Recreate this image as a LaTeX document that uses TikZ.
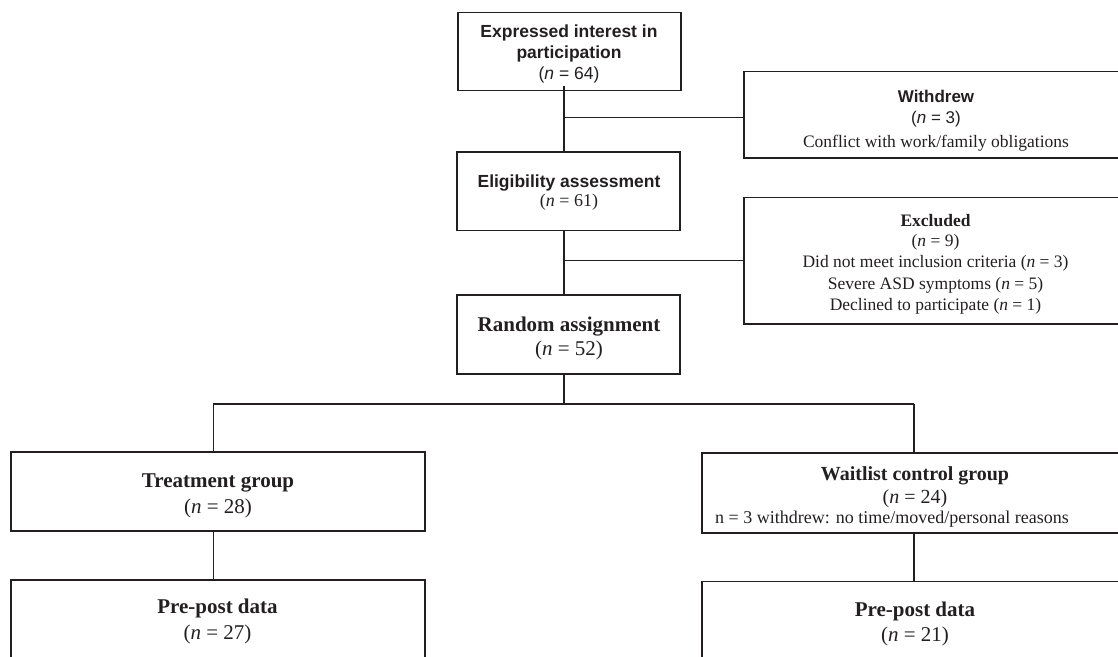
\documentclass[tikz,border=0pt]{standalone}
\usepackage{fontspec}
\setmainfont{Liberation Serif}
\newfontfamily\arialf{Liberation Sans}
\newcommand{\ml}[1]{\begin{tabular}[t]{@{}c@{}}#1\end{tabular}}
\newcommand{\fs}[2]{\fontsize{#1}{#2}\selectfont}
\definecolor{ink}{HTML}{231F20}
\begin{document}
\begin{tikzpicture}[x=1pt,y=-1pt,
  box/.style 2 args={draw=ink, line width=1.2pt, minimum width=#1pt, minimum height=#2pt, inner sep=0pt},
  txt/.style={anchor=base, inner sep=0pt, text=ink},
  conn/.style={draw=ink, line width=1.2pt},
  thick conn/.style={draw=ink, line width=1.6pt}]
\useasboundingbox (0,0) rectangle (1118,656);
% boxes
\node[box={223}{78}] (top) at (569.5,51.7) {};
\node[box={384}{86.3}] (wd) at (936,114.85) {};
\node[box={223}{78.5}] (elig) at (568.5,191.25) {};
\node[box={384}{126.5}] (exc) at (936,260.75) {};
\node[box={223}{79}] (rand) at (568.5,334.5) {};
\node[box={414}{79}] (treat) at (218,491.5) {};
\node[box={426}{80}] (wait) at (915,493) {};
\node[box={414}{79}] (pre1) at (218,619.5) {};
\node[box={426}{79}] (pre2) at (915,620.75) {};
% texts
\node[txt, font=\arialf\bfseries\fs{17.5}{21}] at (569,37)
  {\ml{Expressed interest in\\participation\\\mdseries(\textit{n} = 64)}};
\node[txt, font=\arialf\fs{17}{21}] at (936,102.3)
  {\ml{\bfseries Withdrew\\(\textit{n} = 3)\\[3pt]\rmfamily\fs{17.5}{21}Conflict with work/family obligations}};
\node[txt, font=\arialf\bfseries\fs{17.5}{19}] at (569,187)
  {\ml{Eligibility assessment\\\rmfamily\mdseries\fs{18}{19}(\textit{n} = 61)}};
\node[txt, font=\fs{17.5}{21.5}] at (935.5,226)
  {\ml{\bfseries Excluded\\[-1.5pt](\textit{n} = 9)\\Did not meet inclusion criteria (\textit{n} = 3)\\Severe ASD symptoms (\textit{n} = 5)\\Declined to participate (\textit{n} = 1)}};
\node[txt, font=\fs{21}{23.5}] at (569,331.7)
  {\ml{\bfseries Random assignment\\(\textit{n} = 52)}};
\node[txt, font=\fs{21}{26}] at (218,487.7)
  {\ml{\bfseries Treatment group\\(\textit{n} = 28)}};
\node[txt, font=\fs{20}{23.3}] at (915,480)
  {\ml{\bfseries Waitlist control group\\(\textit{n} = 24)}};
\node[txt, anchor=base west, font=\fs{18}{20}] at (715,523.3)
  {n = 3 withdrew: no time/moved/personal reasons};
\node[txt, font=\fs{21}{25.7}] at (217.5,613.3)
  {\ml{\bfseries Pre-post data\\(\textit{n} = 27)}};
\node[txt, font=\fs{21}{25.7}] at (915,616)
  {\ml{\bfseries Pre-post data\\(\textit{n} = 21)}};
% connector guide coordinates
\coordinate (xs) at (564,0);
\coordinate (xl) at (213.3,0);
\coordinate (xr) at (914,0);
\coordinate (t0) at (564,86);
\coordinate (j1) at (564,117.7);
\coordinate (j2) at (564,260.7);
\coordinate (h) at (564,404);
% connectors
\path[conn] (t0) -- (xs |- elig.north);
\path[conn] (j1) -- (j1 -| wd.west);
\path[conn] (xs |- elig.south) -- (xs |- rand.north);
\path[conn] (j2) -- (j2 -| exc.west);
\path[conn] (xs |- rand.south) -- (h);
\path[thick conn] (h -| xl) -- (h -| xr);
\path[conn] (h -| xl) -- (xl |- treat.north);
\path[conn] (h -| xr) -- (xr |- wait.north);
\path[conn] (xl |- treat.south) -- (xl |- pre1.north);
\path[thick conn] (xr |- wait.south) -- (xr |- pre2.north);
\end{tikzpicture}
\end{document}
